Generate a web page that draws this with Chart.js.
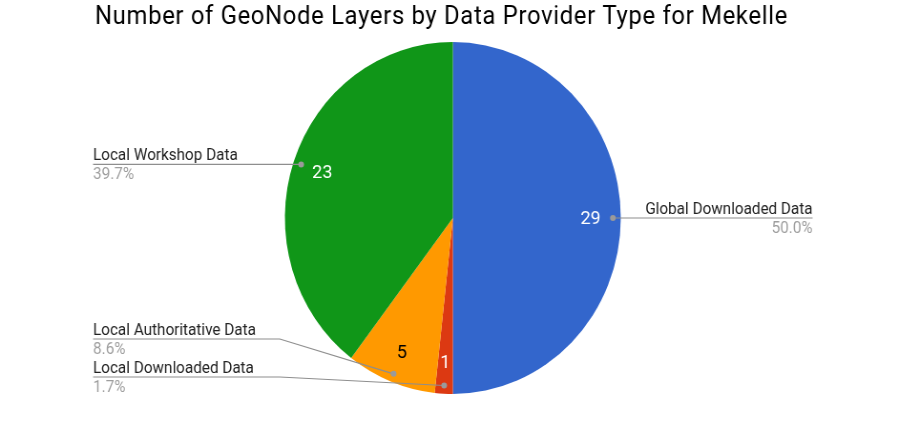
<!DOCTYPE html>
<html><head><meta charset="utf-8">
<script src="https://cdn.jsdelivr.net/npm/chart.js@4.4.1/dist/chart.umd.min.js"></script>
<style>
html,body{margin:0;padding:0;background:#fff;overflow:hidden;}
#wrap{width:919px;height:442px;overflow:hidden;}
canvas{display:block;transform:scaleX(0.9543);transform-origin:0 0;}
</style></head><body>
<div id="wrap"><canvas id="c" width="963" height="442" style="width:963px;height:442px"></canvas></div>
<script>
const chartTitle = 'Number of GeoNode Layers by Data Provider Type for Mekelle';
const categories = ['Global Downloaded Data', 'Local Downloaded Data', 'Local Authoritative Data', 'Local Workshop Data'];
const layerCounts = [29, 1, 5, 23];
const sliceColors = ['#3366CC', '#DC3912', '#FF9900', '#109618'];

const FONT = 'Roboto, "Noto Sans", sans-serif';

function luminance(hex) {
  const n = parseInt(hex.slice(1), 16);
  const c = [(n >> 16) & 255, (n >> 8) & 255, n & 255].map(v => {
    v /= 255; return v <= 0.03928 ? v / 12.92 : Math.pow((v + 0.055) / 1.055, 2.4);
  });
  return 0.2126 * c[0] + 0.7152 * c[1] + 0.0722 * c[2];
}

const titlePlugin = {
  id: 'titleText',
  afterDraw(chart, args, o) {
    const ctx = chart.ctx;
    ctx.save();
    ctx.font = '25px ' + FONT;
    if ('letterSpacing' in ctx) ctx.letterSpacing = '0.7px';
    ctx.fillStyle = '#000';
    ctx.textAlign = 'left';
    ctx.textBaseline = 'alphabetic';
    ctx.fillText(o.text, o.x, o.y);
    ctx.restore();
  }
};

const pieLabelPlugin = {
  id: 'pieLabels',
  afterDatasetsDraw(chart, args, o) {
    const ctx = chart.ctx;
    const meta = chart.getDatasetMeta(0);
    const data = chart.data.datasets[0].data;
    const colors = chart.data.datasets[0].backgroundColor;
    const labels = chart.data.labels;
    const total = data.reduce((a, b) => a + b, 0);
    const area = chart.chartArea;
    const items = meta.data.map((arc, i) => {
      const p = arc.getProps(['x', 'y', 'startAngle', 'endAngle', 'outerRadius'], true);
      const a = (p.startAngle + p.endAngle) / 2;
      return {
        i, a, p,
        ix: p.x + Math.cos(a) * p.outerRadius * o.innerR,
        iy: p.y + Math.sin(a) * p.outerRadius * o.innerR,
        ax: p.x + Math.cos(a) * p.outerRadius * o.anchorR,
        ay: p.y + Math.sin(a) * p.outerRadius * o.anchorR,
        left: Math.cos(a) < 0
      };
    });
    ctx.save();
    // values inside slices
    ctx.font = '19px ' + FONT;
    ctx.textAlign = 'center';
    ctx.textBaseline = 'middle';
    items.forEach(it => {
      ctx.fillStyle = luminance(colors[it.i]) > 0.35 ? '#000' : '#fff';
      ctx.fillText(String(data[it.i]), it.ix, it.iy + 1);
    });
    // resolve label line positions
    const maxY = area.bottom - 17;
    const leftItems = items.filter(it => it.left).sort((a, b) => b.ay - a.ay);
    let prev = Infinity;
    leftItems.forEach(it => { it.ly = Math.min(it.ay, maxY, prev - o.gap); prev = it.ly; });
    const rightItems = items.filter(it => !it.left).sort((a, b) => a.ay - b.ay);
    prev = -Infinity;
    rightItems.forEach(it => { it.ly = Math.max(it.ay, prev + o.gap); prev = it.ly; });
    ctx.font = '16px ' + FONT;
    const maxW = Math.max(...leftItems.map(it => ctx.measureText(labels[it.i]).width));
    const elbowX = o.leftX + maxW + 25;
    ctx.strokeStyle = '#8e8e8e';
    ctx.lineWidth = 1.2;
    items.forEach(it => {
      const name = labels[it.i];
      const pct = (data[it.i] / total * 100).toFixed(1) + '%';
      ctx.beginPath();
      if (it.left) {
        ctx.moveTo(o.leftX, it.ly);
        if (Math.abs(it.ly - it.ay) < 0.5) {
          ctx.lineTo(it.ax, it.ay);
        } else {
          ctx.lineTo(elbowX, it.ly);
          ctx.lineTo(it.ax, it.ay);
        }
      } else {
        ctx.moveTo(it.ax, it.ay);
        if (Math.abs(it.ly - it.ay) >= 0.5) ctx.lineTo(it.ax + 20, it.ly);
        ctx.lineTo(o.rightX, it.ly);
      }
      ctx.stroke();
      ctx.beginPath();
      ctx.fillStyle = '#9a9a9a';
      ctx.arc(it.ax, it.ay, 3, 0, Math.PI * 2);
      ctx.fill();
      ctx.textBaseline = 'alphabetic';
      ctx.textAlign = it.left ? 'left' : 'right';
      const tx = it.left ? o.leftX : o.rightX;
      ctx.fillStyle = '#222';
      ctx.fillText(name, tx, it.ly - 4.5);
      ctx.fillStyle = '#9e9e9e';
      ctx.fillText(pct, tx, it.ly + 14.5);
    });
    ctx.restore();
  }
};

new Chart(document.getElementById('c'), {
  type: 'pie',
  data: {
    labels: categories,
    datasets: [{
      data: layerCounts,
      backgroundColor: sliceColors,
      borderWidth: 0,
      hoverOffset: 0
    }]
  },
  options: {
    responsive: false,
    animation: false,
    events: [],
    layout: { padding: { left: 298.5, right: 312.5, top: 42, bottom: 48 } },
    plugins: {
      legend: { display: false },
      tooltip: { enabled: false },
      title: { display: false },
      titleText: { text: chartTitle, x: 99.5, y: 23.5 },
      pieLabels: {
        innerR: 0.82,
        anchorR: 0.953,
        gap: 38,
        leftX: 97.5,
        rightX: 851.5
      }
    }
  },
  plugins: [titlePlugin, pieLabelPlugin]
});
</script>
</body></html>
